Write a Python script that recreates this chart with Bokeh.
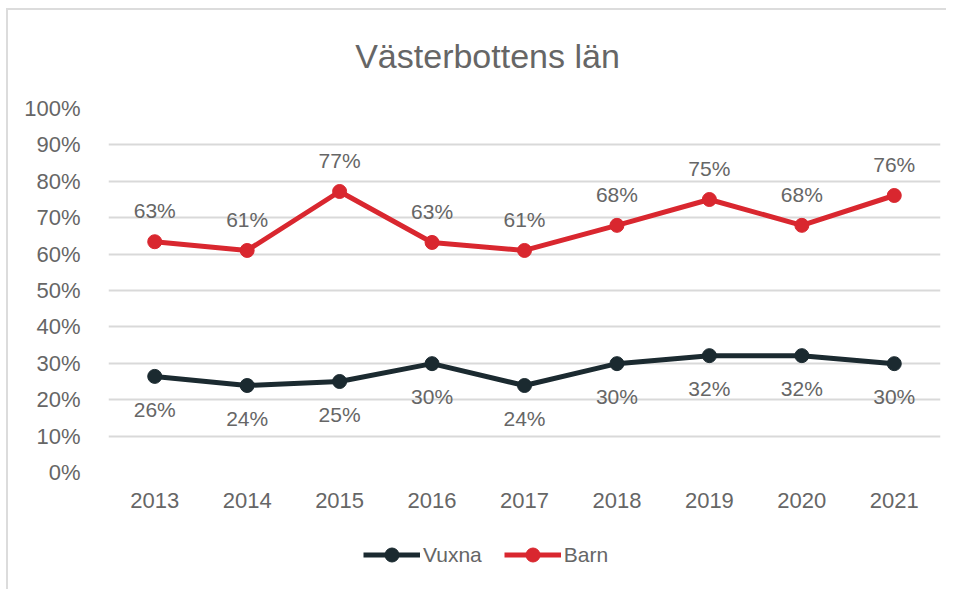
from bokeh.plotting import figure
from bokeh.layouts import column
from bokeh.models import ColumnDataSource, Legend, LegendItem, FixedTicker, PrintfTickFormatter, Label
from bokeh.core.properties import value
from bokeh.embed import file_html
from bokeh.resources import INLINE

years = ["2013", "2014", "2015", "2016", "2017", "2018", "2019", "2020", "2021"]
vuxna = [26.4, 23.9, 25.0, 29.9, 23.9, 29.9, 32.1, 32.1, 29.9]
barn = [63.4, 61.0, 77.2, 63.2, 61.0, 67.9, 75.0, 67.9, 76.1]
vuxna_labels = ["26%", "24%", "25%", "30%", "24%", "30%", "32%", "32%", "30%"]
barn_labels = ["63%", "61%", "77%", "63%", "61%", "68%", "75%", "68%", "76%"]
title_text = "Västerbottens län"
series_names = ["Vuxna", "Barn"]

FONT = "Liberation Sans"
GRAY = "#666666"
RED = "#d9272f"
DARK = "#1b2a30"
W = 938


def bare(fig):
    fig.outline_line_color = None
    fig.xaxis.visible = False
    fig.yaxis.visible = False
    fig.xgrid.visible = False
    fig.ygrid.visible = False
    fig.border_fill_color = "white"
    return fig


src_v = ColumnDataSource(dict(x=years, y=vuxna, lab=vuxna_labels))
src_b = ColumnDataSource(dict(x=years, y=barn, lab=barn_labels))

# ---- title strip ----
pt = bare(figure(width=W, height=70, x_range=(0, W), y_range=(0, 70),
                 output_backend="svg", toolbar_location=None,
                 min_border=0, frame_align=False))
pt.add_layout(Label(x=479, y=25, text=title_text, text_align="center",
                    text_baseline="middle", text_font=FONT, text_font_size="34px",
                    text_color=GRAY))

# ---- main chart ----
p = figure(width=W, height=460, x_range=years, y_range=(0, 100),
           output_backend="svg", toolbar_location=None, frame_align=False,
           min_border_left=100, min_border_right=6, min_border_top=28, min_border_bottom=68)
p.outline_line_color = None
p.border_fill_color = "white"

p.line("x", "y", source=src_v, line_color=DARK, line_width=5, line_join="round")
p.scatter("x", "y", source=src_v, size=14, fill_color=DARK, line_color=DARK)
p.line("x", "y", source=src_b, line_color=RED, line_width=5, line_join="round")
p.scatter("x", "y", source=src_b, size=14, fill_color=RED, line_color=RED)

p.text("x", "y", text="lab", source=src_b, text_align="center", text_baseline="middle",
       y_offset=-31, text_font=value(FONT), text_font_size="21px", text_color=GRAY)
p.text("x", "y", text="lab", source=src_v, text_align="center", text_baseline="middle",
       y_offset=33, text_font=value(FONT), text_font_size="21px", text_color=GRAY)

p.xgrid.grid_line_color = None
p.ygrid.grid_line_color = "#d9d9d9"
p.ygrid.grid_line_width = 2
p.yaxis.ticker = FixedTicker(ticks=list(range(0, 101, 10)))
p.yaxis.formatter = PrintfTickFormatter(format="%d%%")
for ax in (p.xaxis, p.yaxis):
    ax.axis_line_color = None
    ax.major_tick_line_color = None
    ax.minor_tick_line_color = None
    ax.major_label_text_font = FONT
    ax.major_label_text_font_size = "22px"
    ax.major_label_text_color = GRAY
p.xaxis.major_label_standoff = 14
p.yaxis.major_label_standoff = 22

# ---- legend strip ----
pl = bare(figure(width=W, height=49, x_range=years, y_range=(0, 100),
                 output_backend="svg", toolbar_location=None, min_border=0,
                 frame_align=False))
kw = dict(source=src_v, visible=False)
dl_v = pl.line("x", "y", line_color=DARK, line_width=5, **kw)
ds_v = pl.scatter("x", "y", size=14, fill_color=DARK, line_color=DARK, **kw)
kw = dict(source=src_b, visible=False)
dl_b = pl.line("x", "y", line_color=RED, line_width=5, **kw)
ds_b = pl.scatter("x", "y", size=14, fill_color=RED, line_color=RED, **kw)
legend = Legend(items=[LegendItem(label=series_names[0], renderers=[dl_v, ds_v]),
                       LegendItem(label=series_names[1], renderers=[dl_b, ds_b])],
                orientation="horizontal", location=(355, 17),
                label_text_font=FONT, label_text_font_size="21px", label_text_color=GRAY,
                glyph_width=57, glyph_height=35, label_standoff=3, spacing=22,
                padding=0, margin=0, border_line_color=None, background_fill_alpha=0,
                inactive_fill_alpha=0)
pl.add_layout(legend)

layout = column(pt, p, pl, spacing=0)
layout.styles = {"margin-left": "6px", "margin-top": "8px",
                 "border-left": "2px solid #dcdcdc", "border-top": "2px solid #dcdcdc"}
open("out.html", "w").write(file_html(layout, INLINE))
